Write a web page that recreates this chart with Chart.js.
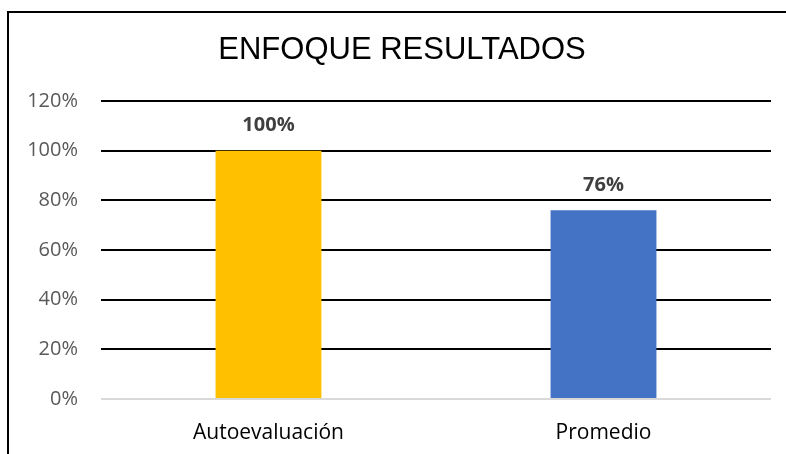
<!DOCTYPE html>
<html>
<head>
<meta charset="utf-8">
<script src="https://cdn.jsdelivr.net/npm/chart.js@4.4.0/dist/chart.umd.min.js"></script>
<style>
  html, body { margin: 0; padding: 0; background: #fff; }
  #wrap { width: 786px; height: 454px; }
</style>
</head>
<body>
<div id="wrap"><canvas id="chart" width="786" height="454"></canvas></div>
<script>
const chartTitle = "ENFOQUE RESULTADOS";
const categories = ["Autoevaluación", "Promedio"];
const values = [100, 76];
const barColors = ["#FFC000", "#4472C4"];
const yTicks = [0, 20, 40, 60, 80, 100, 120];

// frame lines + title, drawn before everything else
const framePlugin = {
  id: "frame",
  beforeDraw(chart) {
    const ctx = chart.ctx;
    ctx.save();
    ctx.fillStyle = "#fff";
    ctx.fillRect(0, 0, chart.width, chart.height);
    ctx.strokeStyle = "#000";
    ctx.lineWidth = 2;
    ctx.beginPath();
    ctx.moveTo(8, chart.height);
    ctx.lineTo(8, 12);
    ctx.lineTo(chart.width, 12);
    ctx.stroke();
    ctx.fillStyle = "#000";
    ctx.font = "31px 'Liberation Sans', Arial, sans-serif";
    ctx.textAlign = "center";
    ctx.textBaseline = "middle";
    ctx.fillText(chartTitle, 402, 50);
    ctx.restore();
  }
};

// value labels above the bars
const labelPlugin = {
  id: "barLabels",
  afterDatasetsDraw(chart) {
    const ctx = chart.ctx;
    const meta = chart.getDatasetMeta(0);
    ctx.save();
    ctx.fillStyle = "#404040";
    ctx.font = "bold 20px 'Open Sans', sans-serif";
    ctx.textAlign = "center";
    ctx.textBaseline = "middle";
    meta.data.forEach((bar, i) => {
      ctx.fillText(values[i] + "%", bar.x, bar.y - 25);
    });
    ctx.restore();
  }
};

new Chart(document.getElementById("chart"), {
  type: "bar",
  data: {
    labels: categories,
    datasets: [{
      data: values,
      backgroundColor: barColors,
      borderWidth: 0,
      barPercentage: 0.316,
      categoryPercentage: 1
    }]
  },
  options: {
    responsive: false,
    animation: false,
    layout: { padding: { top: 101, right: 15, left: 0, bottom: 0 } },
    plugins: {
      legend: { display: false },
      title: { display: false },
      tooltip: { enabled: false }
    },
    scales: {
      x: {
        grid: { display: false },
        border: { display: false },
        ticks: {
          color: "#000",
          font: { family: "'Open Sans', sans-serif", size: 21 },
          padding: 13
        },
        afterFit(scale) { scale.height = 55; }
      },
      y: {
        min: 0,
        max: 120,
        afterBuildTicks(scale) {
          scale.ticks = yTicks.map(v => ({ value: v }));
        },
        border: { display: false },
        grid: {
          drawTicks: false,
          lineWidth: 2,
          color: (c) => (c.tick && c.tick.value === 0 ? "#d9d9d9" : "#000")
        },
        ticks: {
          color: "#595959",
          font: { family: "'Open Sans', sans-serif", size: 20 },
          padding: 23,
          callback: (v) => v + "%"
        },
        afterFit(scale) { scale.width = 101; }
      }
    }
  },
  plugins: [framePlugin, labelPlugin]
});
</script>
</body>
</html>
